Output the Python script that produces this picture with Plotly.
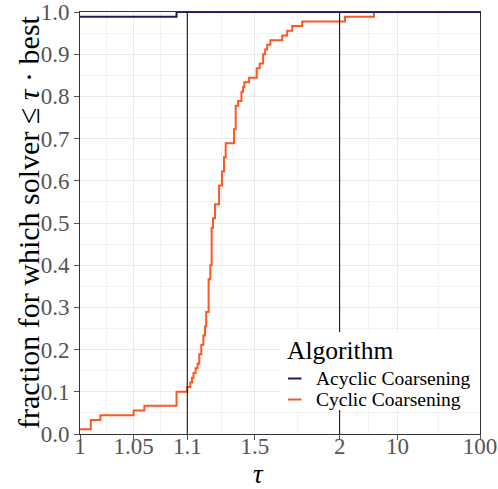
import numpy as np
import plotly.graph_objects as go

# ---------------- data ----------------
N = 90
acyclic_tau = [1.0, 1.09, 100.0]
acyclic_cnt = [89, 90, 90]

cyclic_tau = [1.0, 1.010, 1.019, 1.050, 1.060, 1.090, 1.100, 1.118, 1.128, 1.137,
              1.149, 1.161, 1.171, 1.183, 1.195, 1.205, 1.212, 1.226, 1.236, 1.244,
              1.252, 1.264, 1.288, 1.305, 1.317, 1.327, 1.376, 1.386, 1.400, 1.420,
              1.430, 1.437, 1.465, 1.510, 1.528, 1.548, 1.560, 1.572, 1.591, 1.661,
              1.690, 1.720, 1.779, 2.32, 5.2, 100.0]
cyclic_cnt = [1, 3, 4, 5, 6, 9, 10, 11, 12, 13,
              14, 15, 17, 19, 21, 23, 26, 33, 36, 44,
              46, 49, 53, 56, 59, 62, 65, 70, 71, 73,
              74, 75, 76, 78, 79, 81, 82, 83, 84, 85,
              86, 87, 88, 89, 90, 90]

x_ticks = [1, 1.05, 1.1, 1.5, 2, 10, 100]
x_ticktext = ["1", "1.05", "1.1", "1.5", "2", "10", "100"]
vlines = [1.1, 2]
y_ticks = [0.0, 0.1, 0.2, 0.3, 0.4, 0.5, 0.6, 0.7, 0.8, 0.9, 1.0]
series_names = ["Acyclic Coarsening", "Cyclic Coarsening"]
series_colors = ["#1c1c66", "#ff5722"]

# ------------- piecewise tau scale -------------
SEG1, SEG2, SEG3 = 107.0, 152.0, 140.0


def to_u(t):
    t = np.asarray(t, dtype=float)
    return np.where(
        t <= 1.1, (t - 1.0) / 0.1 * SEG1,
        np.where(t <= 2.0, SEG1 + (t - 1.1) / 0.9 * SEG2,
                 SEG1 + SEG2 + np.log(t / 2.0) / np.log(50.0) * SEG3))


tick_u = to_u(x_ticks)
minor_u = [(a + b) / 2 for a, b in zip(tick_u[:-1], tick_u[1:])]

fig = go.Figure()
# cyclic first so the acyclic line sits on top at fraction 1
for name, col, tt, cc in [(series_names[1], series_colors[1], cyclic_tau, cyclic_cnt),
                          (series_names[0], series_colors[0], acyclic_tau, acyclic_cnt)]:
    fig.add_trace(go.Scatter(
        x=to_u(tt), y=np.array(cc) / N, mode="lines", name=name,
        line=dict(color=col, width=2, shape="hv"), showlegend=False))

for v in vlines:
    fig.add_shape(type="line", xref="x", yref="paper", x0=float(to_u(v)), x1=float(to_u(v)),
                  y0=0, y1=1, line=dict(color="black", width=1), layer="above")

# ------------- layout -------------
W, H = 498, 489
PL, PR, PT, PB = 80, 480, 12, 434  # plot box in page pixels
L, T, R, B = PL, PT, W - PR, H - PB
PW, PH = PR - PL, PB - PT


def px(xp):
    return (xp - PL) / PW


def py(yp):
    return (PB - yp) / PH


serif = "Liberation Serif"
tick_font = dict(family=serif, size=23, color="#555555")

fig.update_layout(
    width=W, height=H, margin=dict(l=L, r=R, t=T, b=B, autoexpand=False),
    paper_bgcolor="white", plot_bgcolor="white", showlegend=False,
    xaxis=dict(range=[0, float(to_u(100))], tickmode="array", tickvals=tick_u.tolist(),
               ticktext=x_ticktext, tickfont=tick_font, ticks="outside", ticklen=5,
               tickcolor="#555555", showline=True, linecolor="#333333", linewidth=1,
               mirror=True, showgrid=True, gridcolor="#ebebeb", gridwidth=1,
               zeroline=False, ticklabelstandoff=-14, ticklabeloverflow="allow",
               minor=dict(tickmode="array", tickvals=minor_u, showgrid=True,
                          gridcolor="#f2f2f2", gridwidth=1, ticks="")),
    yaxis=dict(range=[0, 1], tickmode="array", tickvals=y_ticks,
               ticktext=[f"{v:.1f}" for v in y_ticks], tickfont=tick_font,
               ticks="outside", ticklen=5, tickcolor="#555555", showline=True,
               linecolor="#333333", linewidth=1, mirror=True, showgrid=True,
               gridcolor="#ebebeb", gridwidth=1, zeroline=False,
               ticklabeloverflow="allow",
               minor=dict(dtick=0.05, showgrid=True, gridcolor="#f2f2f2", gridwidth=1,
                          ticks="")),
)

# axis titles
fig.add_annotation(xref="paper", yref="paper", x=px(258), y=py(474.5), xanchor="center",
                   yanchor="middle", text="<i>τ</i>", showarrow=False,
                   font=dict(family=serif, size=27, color="black"))
fig.add_annotation(xref="paper", yref="paper", x=px(28), y=py(222), xanchor="center",
                   yanchor="middle", textangle=-90, showarrow=False,
                   text="fraction for which solver ≤ <i>τ</i> · best",
                   font=dict(family=serif, size=30, color="black"))

# ------------- legend (drawn manually) -------------
fig.add_shape(type="rect", xref="paper", yref="paper", x0=px(280), x1=px(479),
              y0=py(410), y1=py(332), fillcolor="white", line=dict(width=0), layer="above")
fig.add_annotation(xref="paper", yref="paper", x=px(285), y=py(350), xanchor="left",
                   yanchor="middle", text="Algorithm", showarrow=False,
                   font=dict(family=serif, size=25.5, color="black"))
for i, (name, col) in enumerate(zip(series_names, series_colors)):
    ky = 378.5 + i * 21
    fig.add_shape(type="line", xref="paper", yref="paper", x0=px(288), x1=px(301.5),
                  y0=py(ky), y1=py(ky), line=dict(color=col, width=2), layer="above")
    fig.add_annotation(xref="paper", yref="paper", x=px(314), y=py(ky), xanchor="left",
                       yanchor="middle", text=name, showarrow=False,
                       font=dict(family=serif, size=19.5, color="black"))

fig.write_html("out.html", config={"displayModeBar": False},
               post_script="document.body.style.margin='0px';")
